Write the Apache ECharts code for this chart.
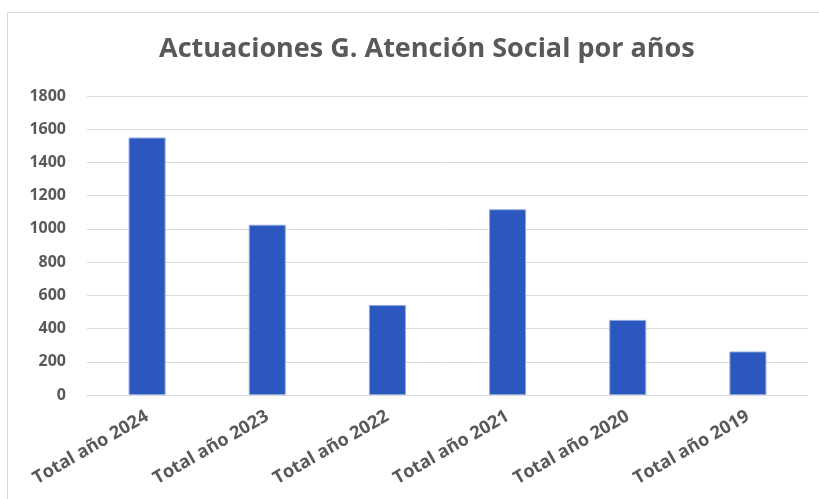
<!DOCTYPE html>
<html>
<head>
<meta charset="utf-8">
<script src="https://cdn.jsdelivr.net/npm/echarts@6/dist/echarts.min.js"></script>
<style>
  html, body { margin: 0; padding: 0; background: #fff; }
  #frame { position: absolute; left: 7px; top: 12px; width: 830px; height: 500px; border: 1px solid #d9d9d9; box-sizing: border-box; }
  #chart { position: absolute; left: 0; top: 0; width: 819px; height: 499px; }
</style>
</head>
<body>
<div id="frame"></div>
<div id="chart"></div>
<script>
var categories = ['Total año 2024', 'Total año 2023', 'Total año 2022', 'Total año 2021', 'Total año 2020', 'Total año 2019'];
var values = [1550, 1025, 542, 1118, 452, 262];

var myChart = echarts.init(document.getElementById('chart'));

var option = {
    title: {
        text: 'Actuaciones G. Atención Social por años',
        left: 154,
        top: 31,
        textStyle: {
            fontFamily: 'Open Sans',
            fontSize: 27,
            fontWeight: 'bold',
            color: '#595959'
        }
    },
    grid: {
        left: 87,
        right: 11,
        top: 96,
        bottom: 104
    },
    xAxis: {
        type: 'category',
        data: categories,
        axisLine: { lineStyle: { color: '#d9d9d9', width: 1 } },
        axisTick: { show: false },
        axisLabel: {
            rotate: 30,
            margin: 20,
            interval: 0,
            fontFamily: 'Open Sans',
            fontSize: 18,
            fontWeight: 'bold',
            color: '#595959'
        }
    },
    yAxis: {
        type: 'value',
        min: 0,
        max: 1800,
        interval: 200,
        axisLine: { show: false },
        axisTick: { show: false },
        splitLine: { lineStyle: { color: '#d9d9d9', width: 1 } },
        axisLabel: {
            margin: 21,
            formatter: function (v) { return String(v); },
            fontFamily: 'Open Sans',
            fontSize: 16,
            fontWeight: 'bold',
            color: '#595959'
        }
    },
    series: [
        {
            type: 'bar',
            data: values,
            barWidth: 37,
            itemStyle: {
                color: '#2B57BE',
                borderColor: '#8fa8e0',
                borderWidth: 1
            }
        }
    ]
};

myChart.setOption(option);
</script>
</body>
</html>
